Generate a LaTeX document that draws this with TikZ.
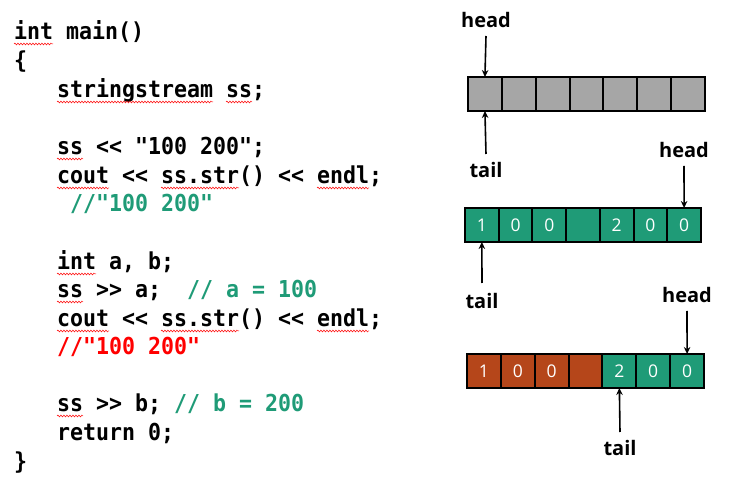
\documentclass[tikz,border=0pt]{standalone}
\usepackage{fontspec}
\setmonofont{DejaVu Sans Mono}
\newfontfamily\lblfont{Open Sans}
\usetikzlibrary{arrows.meta,decorations.pathmorphing}
\definecolor{cgreen}{HTML}{1F9B77}
\definecolor{corange}{HTML}{B5461A}
\definecolor{cgray}{HTML}{A6A6A6}
\definecolor{cred}{HTML}{FF0000}
\tikzset{
  codeline/.style={anchor=base west,inner sep=0pt,outer sep=0pt,yscale=1.08,font=\fontsize{21.6}{28}\selectfont\ttfamily\bfseries},
  squig/.style={draw=red,line width=0.5pt,decorate,decoration={snake,amplitude=0.9pt,segment length=3pt}},
  cell/.style={draw=black,line width=2pt,inner sep=0pt,outer sep=0pt,anchor=north west,text=white,
     minimum height=34pt,font=\fontsize{17.5}{18}\selectfont\lblfont},
  lbl/.style={inner sep=0pt,font=\fontsize{20}{22}\selectfont\lblfont\bfseries},
  arr/.style={line width=1.6pt,-{Stealth[length=7pt,width=6.5pt]}},
}
\begin{document}
\begin{tikzpicture}[x=1pt,y=-1pt]
\useasboundingbox (0,0) rectangle (740,497);
% code
\node[codeline] (l1) at (14,40) {int main()};
\node[codeline] (l2) at (14,69) {\{};
\node[codeline] (l3) at (57,98) {stringstream ss;};
\node[codeline] (l4) at (57,155) {ss << "100 200";};
\node[codeline] (l5) at (57,184) {cout << ss.str() << endl;};
\node[codeline,text=cgreen] (l6) at (70,212) {//"100 200"};
\node[codeline] (l7) at (57,270) {int a, b;};
\node[codeline] (l8) at (57,298) {ss >> a;\ \ \textcolor{cgreen}{// a = 100}};
\node[codeline] (l9) at (57,327) {cout << ss.str() << endl;};
\node[codeline,text=cred] (l10) at (57,355) {//"100 200"};
\node[codeline] (l11) at (57,412) {ss >> b; \textcolor{cgreen}{// b = 200}};
\node[codeline] (l12) at (57,441) {return 0;};
\node[codeline] (l13) at (14,469) {\}};
% spell-check squiggles
\foreach \y/\a/\b in {44/14/53, 102/57/213, 102/226/252, 159/57/83, 188/57/109, 188/161/239, 188/317/369,
  274/57/96, 302/57/83, 331/57/109, 331/161/239, 331/317/369, 416/57/83}
  \draw[squig] (\a,\y) -- (\b,\y);
% array 1
\foreach \i in {1,...,7}
  \node[cell,fill=cgray,minimum width=33.86pt] (a\i) at ({468+(\i-1)*33.86},77) {};
% array 2
\foreach \i/\t in {1/1,2/0,3/0,4/,5/2,6/0,7/0}
  \node[cell,fill=cgreen,minimum width=33.71pt] (b\i) at ({465+(\i-1)*33.71},208) {\t};
% array 3
\foreach \i/\t/\c in {1/1/corange,2/0/corange,3/0/corange,4//corange,5/2/cgreen,6/0/cgreen,7/0/cgreen}
  \node[cell,fill=\c,minimum width=33.86pt] (c\i) at ({467+(\i-1)*33.86},354) {\t};
% labels and arrows
\node[lbl] (h1) at (486,20) {head};
\coordinate (h1s) at (486,36);
\draw[arr] (h1s) -- (a1.north);
\node[lbl] (t1) at (486,170) {tail};
\coordinate (t1s) at (486,154);
\draw[arr] (t1s) -- (a1.south);

\node[lbl] (h2) at (684,150) {head};
\coordinate (h2s) at (684,166);
\draw[arr] (h2s) -- (b7.north);
\node[lbl] (t2) at (482,301) {tail};
\coordinate (t2s) at (482,283);
\draw[arr] (t2s) -- (b1.south);

\node[lbl] (h3) at (687,295) {head};
\coordinate (h3s) at (687,311);
\draw[arr] (h3s) -- (c7.north);
\node[lbl] (t3) at (620,448) {tail};
\coordinate (t3s) at (620,432);
\draw[arr] (t3s) -- (c5.south);
\end{tikzpicture}
\end{document}
